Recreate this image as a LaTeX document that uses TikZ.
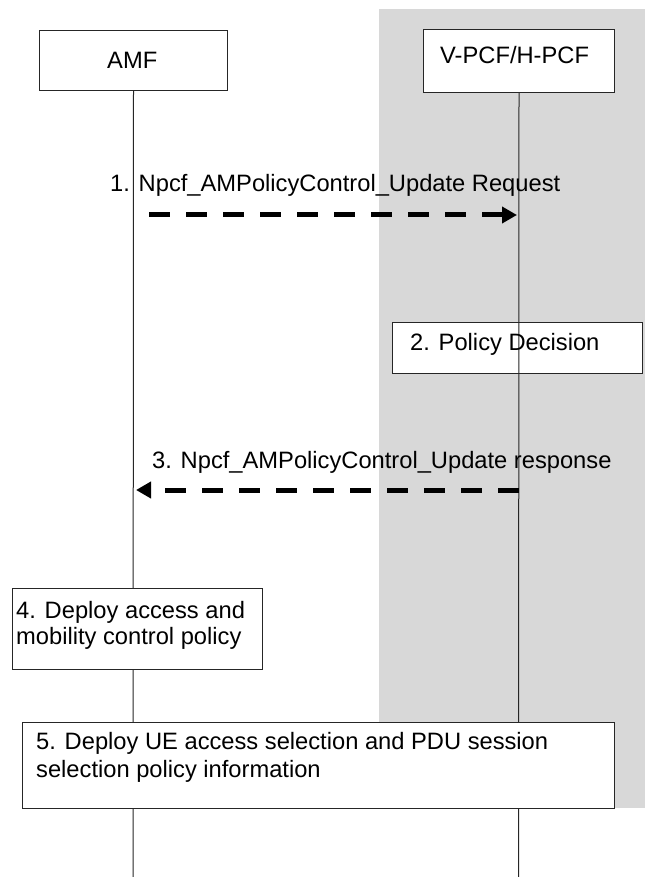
\documentclass[tikz,border=0pt]{standalone}
\usepackage{fontspec}
\setmainfont{Liberation Sans}
\usetikzlibrary{arrows.meta}
\definecolor{bggrey}{RGB}{216,216,216}
\begin{document}
\begin{tikzpicture}[x=1pt,y=-1pt,
  box/.style={draw=black!85, line width=1pt, fill=white, inner sep=0pt, anchor=north west},
  txt/.style={font=\fontsize{23.7}{27}\selectfont, inner sep=0pt, anchor=base west},
  life/.style={draw=black!85, line width=1pt},
  msg/.style={line width=5pt, dash pattern=on 21pt off 16pt, -{Triangle[length=15pt,width=16pt]}}]
\useasboundingbox (0,0) rectangle (645,877);
% shaded region
\fill[bggrey] (379,9) rectangle (645,808);
% entities
\node[box, minimum width=188pt, minimum height=60pt] (amf) at (39,30) {};
\node[box, minimum width=191pt, minimum height=63pt] (pcf) at (423,29) {};
\node[box, minimum width=250pt, minimum height=51pt] (b2) at (392,322) {};
% lifelines
\coordinate (amfend) at (133,877);
\coordinate (pcfend) at (518.5,877);
\draw[life] (amf.south) -- (amfend);
\draw[life] (pcf.south) -- (pcfend);
% boxes covering lifelines
\node[box, minimum width=250pt, minimum height=81pt] (b4) at (12,588) {};
\node[box, minimum width=592pt, minimum height=86pt] (b5) at (22,722) {};
% messages
\coordinate (m1s) at (149,215);
\coordinate (m1e) at (517,215);
\coordinate (m3s) at (518.5,490);
\coordinate (m3e) at (136,490);
\draw[msg] (m1s) -- (m1e);
\draw[msg] (m3s) -- (m3e);
% texts
\node[txt] (amft) at (107,69) {AMF};
\node[txt] (pcft) at (440,64) {V-PCF/H-PCF};
\node[txt] (l1) at (110,192) {1. Npcf\_AMPolicyControl\_Update Request};
\node[txt] (b2t) at (410,350) {2. Policy Decision};
\node[txt] (l3) at (152,468) {3. Npcf\_AMPolicyControl\_Update response};
\node[txt] (b4t1) at (16,618) {4. Deploy access and};
\node[txt] (b4t2) at (16,644) {mobility control policy};
\node[txt] (b5t1) at (36,749) {5. Deploy UE access selection and PDU session};
\node[txt] (b5t2) at (36,777) {selection policy information};
\end{tikzpicture}
\end{document}
